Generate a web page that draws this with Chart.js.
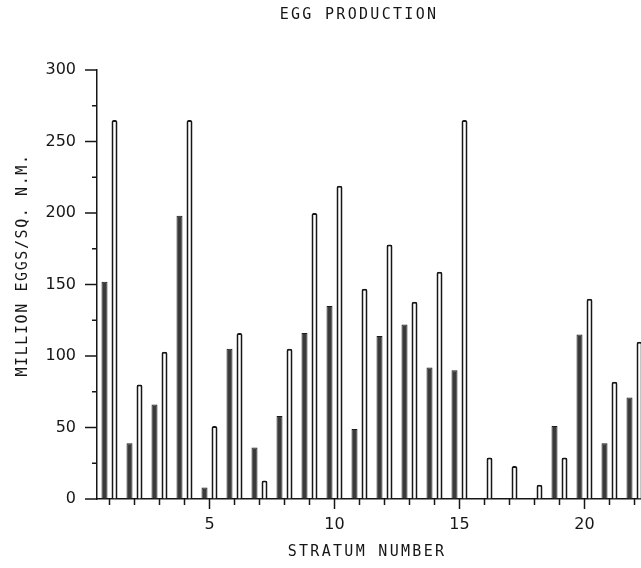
<!DOCTYPE html>
<html>
<head>
<meta charset="utf-8">
<script src="https://cdn.jsdelivr.net/npm/chart.js@4"></script>
<style>
  html, body { margin: 0; padding: 0; background: #fff; overflow: hidden; }
  #wrap { width: 660px; height: 568px; }
</style>
</head>
<body>
<div id="wrap"><canvas id="chart" width="660" height="568"></canvas></div>
<script>
const strata = ['1','2','3','4','5','6','7','8','9','10','11','12','13','14','15','16','17','18','19','20','21','22'];
const darkBars = [152, 39, 66, 198, 8, 105, 36, 58, 116, 135, 49, 114, 122, 92, 90, 0, 0, 0, 51, 115, 39, 71];
const openBars = [265, 80, 103, 265, 51, 116, 13, 105, 200, 219, 147, 178, 138, 159, 265, 29, 23, 10, 29, 140, 82, 110];
const yTicks = [0, 25, 50, 75, 100, 125, 150, 175, 200, 225, 250, 275, 300];

const ink = '#161616';
const textFont = '15px "DejaVu Sans Mono"';

// plotter style ticks and the three titles
const plotterBits = {
  id: 'plotterBits',
  afterDraw(chart) {
    const ctx = chart.ctx;
    const xs = chart.scales.x;
    const ys = chart.scales.y;
    const area = chart.chartArea;
    ctx.save();
    ctx.strokeStyle = ink;
    ctx.lineWidth = 1.5;
    ctx.beginPath();
    strata.forEach((s, i) => {
      const px = xs.getPixelForValue(i);
      const len = Number(s) % 5 === 0 ? 10 : 6;
      ctx.moveTo(px, area.bottom);
      ctx.lineTo(px, area.bottom + len);
    });
    yTicks.forEach(v => {
      const py = ys.getPixelForValue(v);
      const len = v % 50 === 0 ? 12 : 5;
      ctx.moveTo(area.left, py);
      ctx.lineTo(area.left - len, py);
    });
    ctx.stroke();

    ctx.fillStyle = ink;
    ctx.font = textFont;
    ctx.letterSpacing = '2.3px';
    ctx.textAlign = 'center';
    ctx.textBaseline = 'middle';
    ctx.fillText('EGG PRODUCTION', 359, 15);
    ctx.fillText('STRATUM NUMBER', 367, 552);
    ctx.translate(23, 265);
    ctx.rotate(-Math.PI / 2);
    ctx.letterSpacing = '1.6px';
    ctx.fillText('MILLION EGGS/SQ. N.M.', 0, 0);
    ctx.restore();
  }
};

new Chart(document.getElementById('chart').getContext('2d'), {
  type: 'bar',
  data: {
    labels: strata,
    datasets: [
      {
        label: 'dark',
        data: darkBars,
        backgroundColor: '#3a3a3a',
        borderColor: '#1c1c1c',
        borderWidth: 1,
        barPercentage: 0.6,
        categoryPercentage: 0.8
      },
      {
        label: 'open',
        data: openBars,
        backgroundColor: '#ffffff',
        borderColor: ink,
        borderWidth: 2,
        borderRadius: 2,
        barPercentage: 0.6,
        categoryPercentage: 0.8
      }
    ]
  },
  options: {
    responsive: false,
    animation: false,
    layout: { padding: { top: 70, left: 0, right: 13, bottom: 0 } },
    plugins: {
      legend: { display: false },
      tooltip: { enabled: false },
      title: { display: false }
    },
    scales: {
      x: {
        grid: { drawOnChartArea: false, drawTicks: false, offset: false },
        border: { display: true, color: ink, width: 1.5 },
        ticks: {
          autoSkip: false,
          maxRotation: 0,
          padding: 16,
          color: ink,
          font: { family: 'DejaVu Sans', size: 16 },
          callback: (v, i) => (Number(strata[i]) % 5 === 0 ? strata[i] : '')
        },
        afterFit(scale) { scale.height = 69; }
      },
      y: {
        min: 0,
        max: 300,
        grid: { drawOnChartArea: false, drawTicks: false },
        border: { display: true, color: ink, width: 1.5 },
        ticks: {
          stepSize: 50,
          padding: 21,
          color: ink,
          font: { family: 'DejaVu Sans', size: 16 }
        },
        afterFit(scale) { scale.width = 97; }
      }
    }
  },
  plugins: [plotterBits]
});
</script>
</body>
</html>
